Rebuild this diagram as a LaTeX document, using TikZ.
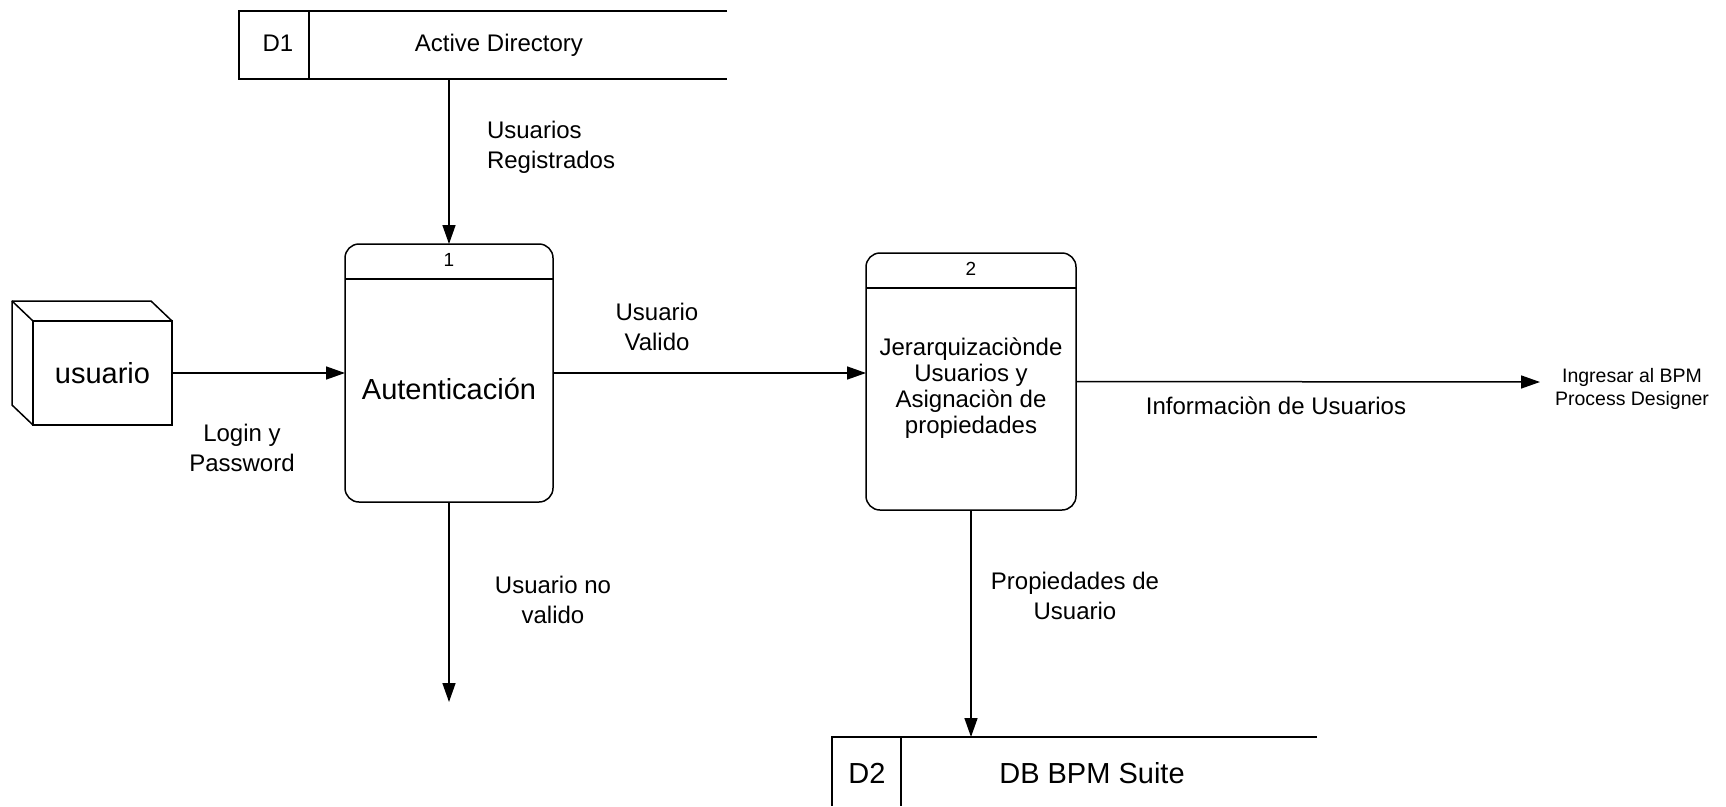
\documentclass[tikz,border=0pt]{standalone}
\usepackage{fontspec}
\setmainfont{Liberation Sans}
\usetikzlibrary{arrows.meta}

\tikzset{
  every node/.style={inner sep=0pt, outer sep=0pt},
  line/.style={line width=1.5pt, draw=black},
  flow/.style={line width=1.5pt, draw=black, -{Triangle[length=19pt,width=13pt]}},
  procbox/.style={line width=1.5pt, draw=black, rectangle, rounded corners=14pt},
  store/.style={rectangle},
  big/.style={font=\fontsize{29}{34}\selectfont, align=center},
  txt/.style={font=\fontsize{24}{30}\selectfont, align=center},
  ptxt/.style={font=\fontsize{24}{26}\selectfont, align=center},
  small/.style={font=\fontsize{19.5}{23}\selectfont, align=center},
  num/.style={font=\fontsize{19}{21}\selectfont},
}

\begin{document}
\begin{tikzpicture}[x=1pt, y=-1pt]
\useasboundingbox (0,0) rectangle (1726,806);

% external entity
\node[rectangle, draw, line width=1.5pt, minimum width=139pt, minimum height=104pt, big] (ent) at (102.5,373) {usuario};
\draw[line, line join=round] (ent.south west) -- ++(-21,-20) -- ++(0,-104) -- ++(139,0) -- (ent.north east);
\draw[line] (ent.north west) -- ++(-21,-20);

% data store D1
\node[store, minimum width=488pt, minimum height=68pt] (d1) at (483,45) {};
\draw[line] (d1.north east) -- (d1.north west) -- (d1.south west) -- (d1.south east);
\coordinate (d1div) at (309,45);
\draw[line] (d1div |- d1.north) -- (d1div |- d1.south);
\node[txt] (d1id) at (278,43) {D1};
\node[txt] (d1name) at (499,45) {Active Directory};

% data store D2
\node[store, minimum width=485pt, minimum height=69pt] (d2) at (1074.5,771.5) {};
\draw[line] (d2.north east) -- (d2.north west) -- (d2.south west);
\coordinate (d2div) at (901,771.5);
\draw[line] (d2div |- d2.north) -- (d2div |- d2.south);
\node[txt, font=\fontsize{29}{34}\selectfont] (d2id) at (867,773) {D2};
\node[txt, font=\fontsize{29}{34}\selectfont] (d2name) at (1092,773) {DB BPM Suite};

% process 1
\node[procbox, minimum width=208pt, minimum height=258pt] (p1) at (449,373) {};
\draw[line] ([yshift=-35pt]p1.north west) -- ([yshift=-35pt]p1.north east);
\node[num] (p1num) at (449,260) {1};
\node[big] (p1name) at (449,389) {Autenticación};

% process 2
\node[procbox, minimum width=210pt, minimum height=257pt] (p2) at (971,381.5) {};
\draw[line] ([yshift=-35pt]p2.north west) -- ([yshift=-35pt]p2.north east);
\node[num] (p2num) at (971,269) {2};
\node[ptxt] (p2name) at (971,388) {Jerarquizaciònde\\Usuarios y\\Asignaciòn de\\propiedades};

% free ends
\coordinate (reject) at (449,702);
\coordinate (exit) at (1540,382);

% flows
\draw[flow] (p1.north |- d1.south) -- (p1.north);
\draw[flow] (ent.east) -- (p1.west);
\draw[flow] (p1.east) -- (p1.east -| p2.west);
\draw[flow] (p1.south) -- (reject);
\draw[flow] (p2.east) -- (exit);
\draw[flow] (p2.south) -- (p2.south |- d2.north);

% flow labels
\node[txt, align=left, anchor=west] (lreg) at (487,147) {Usuarios\\Registrados};
\node[txt] (llogin) at (242,448) {Login y\\Password};
\node[txt] (lvalid) at (657,327) {Usuario\\Valido};
\node[txt] (lnovalid) at (553,600) {Usuario no\\valido};
\node[txt] (linfo) at (1276,406) {Informaciòn de Usuarios};
\node[txt] (lprop) at (1075,596) {Propiedades de\\Usuario};
\node[small] (lexit) at (1632,389) {Ingresar al BPM\\Process Designer};
\end{tikzpicture}
\end{document}
